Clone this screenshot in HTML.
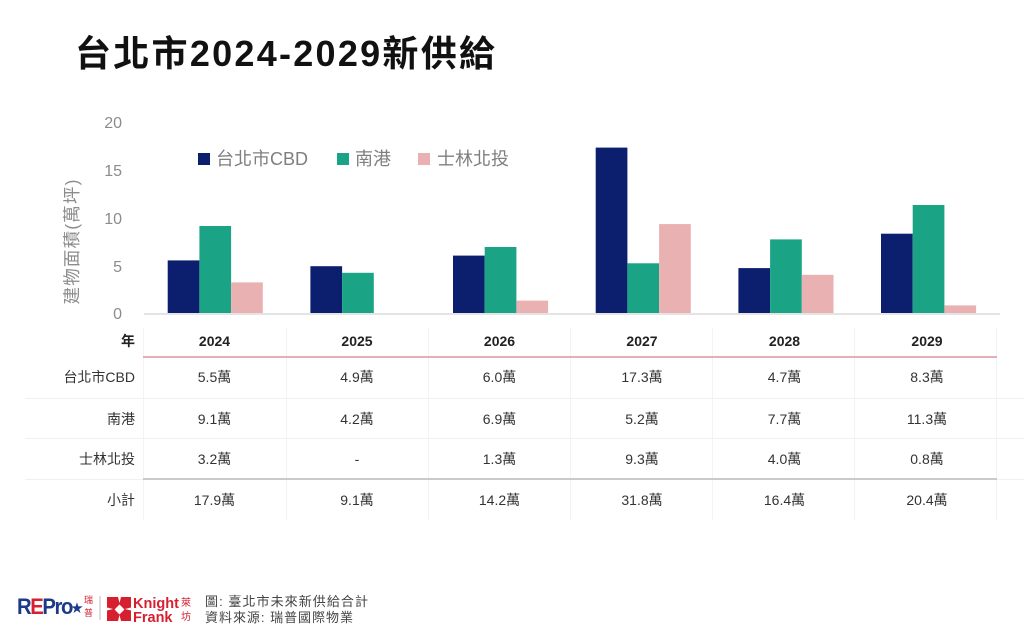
<!DOCTYPE html>
<html>
<head>
<meta charset="utf-8">
<style>
  html,body{margin:0;padding:0;background:#fff;}
  body{width:1024px;height:633px;overflow:hidden;}
  svg{display:block;font-family:"Liberation Sans","Noto Sans CJK TC",sans-serif;}
</style>
</head>
<body>
<svg width="1024" height="633" viewBox="0 0 1024 633" xmlns="http://www.w3.org/2000/svg">
  <rect width="1024" height="633" fill="#fff"/>
  <!-- Title -->
  <text x="75" y="66" font-size="36" font-weight="bold" fill="#111" textLength="420" lengthAdjust="spacing">台北市2024-2029新供給</text>

  <!-- Y axis ticks -->
  <g font-size="16" fill="#8c8c8c" text-anchor="end">
    <text x="122" y="128">20</text>
    <text x="122" y="176">15</text>
    <text x="122" y="224">10</text>
    <text x="122" y="272">5</text>
    <text x="122" y="319">0</text>
  </g>
  <text transform="translate(78,242) rotate(-90)" font-size="17.5" fill="#8c8c8c" text-anchor="middle" textLength="125" lengthAdjust="spacing">建物面積(萬坪)</text>

  <!-- Legend -->
  <rect x="198" y="153" width="12" height="12" fill="#0c1f6f"/>
  <text x="216" y="165" font-size="18" fill="#7f7f7f">台北市CBD</text>
  <rect x="337" y="153" width="12" height="12" fill="#1ba385"/>
  <text x="355" y="165" font-size="18" fill="#7f7f7f">南港</text>
  <rect x="418" y="153" width="12" height="12" fill="#e9b1b1"/>
  <text x="437" y="165" font-size="18" fill="#7f7f7f">士林北投</text>

  <!-- Bars -->
  <g>
    <rect x="167.7" y="260.4" width="31.7" height="52.6" fill="#0c1f6f"/>
    <rect x="199.4" y="226.0" width="31.7" height="87.0" fill="#1ba385"/>
    <rect x="231.1" y="282.4" width="31.7" height="30.6" fill="#e9b1b1"/>
    <rect x="310.4" y="266.2" width="31.7" height="46.8" fill="#0c1f6f"/>
    <rect x="342.1" y="272.8" width="31.7" height="40.2" fill="#1ba385"/>
    <rect x="453.0" y="255.6" width="31.7" height="57.4" fill="#0c1f6f"/>
    <rect x="484.7" y="247.0" width="31.7" height="66.0" fill="#1ba385"/>
    <rect x="516.4" y="300.6" width="31.7" height="12.4" fill="#e9b1b1"/>
    <rect x="595.7" y="147.6" width="31.7" height="165.4" fill="#0c1f6f"/>
    <rect x="627.4" y="263.3" width="31.7" height="49.7" fill="#1ba385"/>
    <rect x="659.1" y="224.1" width="31.7" height="88.9" fill="#e9b1b1"/>
    <rect x="738.4" y="268.1" width="31.7" height="44.9" fill="#0c1f6f"/>
    <rect x="770.1" y="239.4" width="31.7" height="73.6" fill="#1ba385"/>
    <rect x="801.8" y="274.8" width="31.7" height="38.2" fill="#e9b1b1"/>
    <rect x="881.0" y="233.7" width="31.7" height="79.3" fill="#0c1f6f"/>
    <rect x="912.7" y="205.0" width="31.7" height="108.0" fill="#1ba385"/>
    <rect x="944.4" y="305.4" width="31.7" height="7.6" fill="#e9b1b1"/>
  </g>
  <line x1="144" y1="314" x2="1000" y2="314" stroke="#e4e4e4" stroke-width="2"/>

  <!-- Table grid -->
  <g stroke="#f7f2f2" stroke-width="1">
    <line x1="143.5" y1="328" x2="143.5" y2="520"/>
    <line x1="286.5" y1="328" x2="286.5" y2="520"/>
    <line x1="428.5" y1="328" x2="428.5" y2="520"/>
    <line x1="570.5" y1="328" x2="570.5" y2="520"/>
    <line x1="712.5" y1="328" x2="712.5" y2="520"/>
    <line x1="854.5" y1="328" x2="854.5" y2="520"/>
    <line x1="996.5" y1="328" x2="996.5" y2="520"/>
  </g>
  <g stroke="#f4eeee" stroke-width="1">
    <line x1="25" y1="398.5" x2="1024" y2="398.5"/>
    <line x1="25" y1="438.5" x2="1024" y2="438.5"/>
    <line x1="25" y1="479.5" x2="143" y2="479.5"/>
    <line x1="997" y1="479.5" x2="1024" y2="479.5"/>
  </g>
  <line x1="143" y1="357" x2="997" y2="357" stroke="#dc96a0" stroke-width="1.5"/>
  <line x1="143" y1="479" x2="997" y2="479" stroke="#b9b9b9" stroke-width="1.5"/>

  <!-- Header row -->
  <g font-size="14" font-weight="bold" fill="#222" text-anchor="middle">
    <text x="128" y="346">年</text>
    <text x="214.5" y="346">2024</text>
    <text x="357" y="346">2025</text>
    <text x="499.5" y="346">2026</text>
    <text x="642" y="346">2027</text>
    <text x="784.5" y="346">2028</text>
    <text x="927" y="346">2029</text>
  </g>

  <!-- Row labels -->
  <g font-size="14" fill="#333" text-anchor="end">
    <text x="135" y="382">台北市CBD</text>
    <text x="135" y="424">南港</text>
    <text x="135" y="464">士林北投</text>
    <text x="135" y="505">小計</text>
  </g>

  <!-- Values -->
  <g font-size="14" fill="#333" text-anchor="middle">
    <text x="214.5" y="382">5.5萬</text>
    <text x="357" y="382">4.9萬</text>
    <text x="499.5" y="382">6.0萬</text>
    <text x="642" y="382">17.3萬</text>
    <text x="784.5" y="382">4.7萬</text>
    <text x="927" y="382">8.3萬</text>

    <text x="214.5" y="424">9.1萬</text>
    <text x="357" y="424">4.2萬</text>
    <text x="499.5" y="424">6.9萬</text>
    <text x="642" y="424">5.2萬</text>
    <text x="784.5" y="424">7.7萬</text>
    <text x="927" y="424">11.3萬</text>

    <text x="214.5" y="464">3.2萬</text>
    <text x="357" y="464">-</text>
    <text x="499.5" y="464">1.3萬</text>
    <text x="642" y="464">9.3萬</text>
    <text x="784.5" y="464">4.0萬</text>
    <text x="927" y="464">0.8萬</text>

    <text x="214.5" y="505">17.9萬</text>
    <text x="357" y="505">9.1萬</text>
    <text x="499.5" y="505">14.2萬</text>
    <text x="642" y="505">31.8萬</text>
    <text x="784.5" y="505">16.4萬</text>
    <text x="927" y="505">20.4萬</text>
  </g>

  <!-- Footer: REPro logo -->
  <text x="17" y="614" font-size="22" font-weight="bold" letter-spacing="-1.5" fill="#1d3a8a" textLength="55" lengthAdjust="spacingAndGlyphs">R<tspan fill="#d6202f">E</tspan>Pro</text>
  <text x="71" y="612" font-size="12" fill="#1d3a8a">★</text>
  <text x="84" y="603" font-size="9" fill="#d6202f">瑞</text>
  <text x="84" y="616" font-size="9" fill="#d6202f">普</text>
  <line x1="100" y1="596" x2="100" y2="620" stroke="#bbb" stroke-width="1"/>

  <!-- Knight Frank logo -->
  <g fill="#d6202f">
    <polygon points="107,597 118,597 119.5,603 121,597 131,597 131,607.5 125,609 131,610.5 131,621 121,621 119.5,615 118,621 107,621 107,610.5 113,609 107,607.5"/>
  </g>
  <rect x="116" y="606" width="7" height="7" fill="#fff" transform="rotate(45 119.5 609.5)"/>
  <text x="133" y="608" font-size="14.5" font-weight="bold" fill="#d6202f">Knight</text>
  <text x="133" y="622" font-size="14.5" font-weight="bold" fill="#d6202f">Frank</text>
  <text x="181" y="606" font-size="10" fill="#d6202f">萊</text>
  <text x="181" y="620" font-size="10" fill="#d6202f">坊</text>

  <!-- Footer text -->
  <text x="205" y="606" font-size="13" fill="#444" textLength="163" lengthAdjust="spacing">圖: 臺北市未來新供給合計</text>
  <text x="205" y="622" font-size="13" fill="#444" textLength="148" lengthAdjust="spacing">資料來源: 瑞普國際物業</text>
</svg>
</body>
</html>
